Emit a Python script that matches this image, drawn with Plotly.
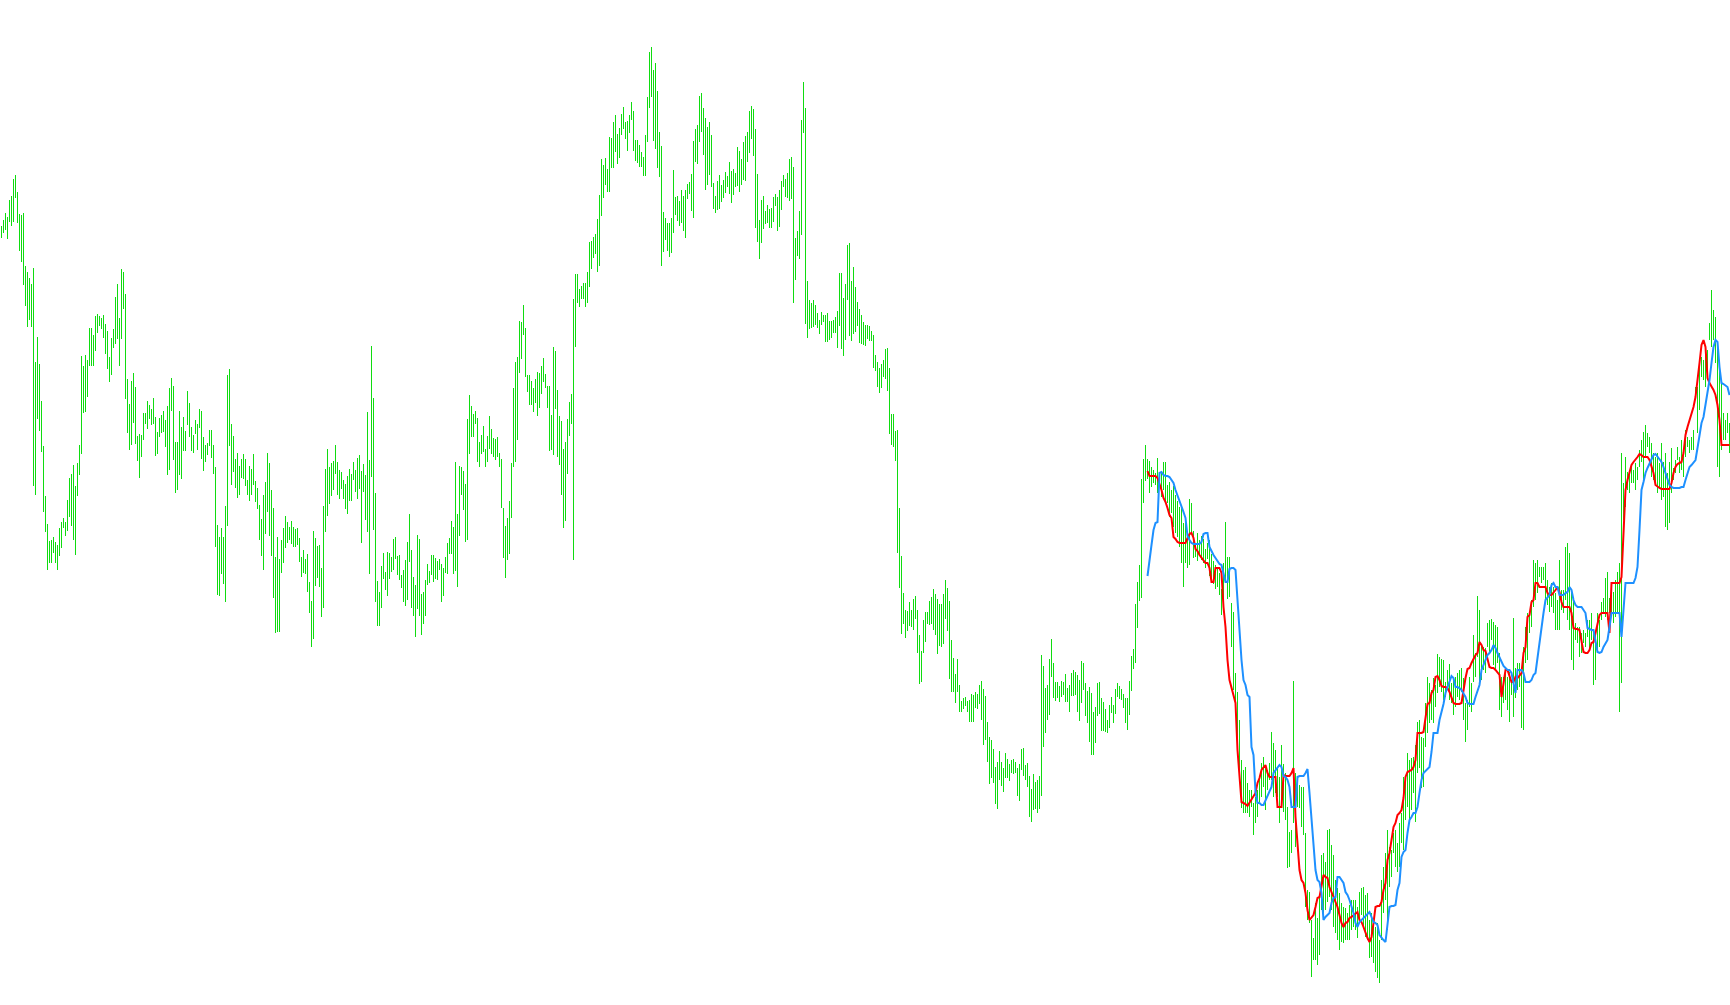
import plotly.graph_objects as go

# Vertical price scale is expressed in chart units measured downward (axis reversed).
# Each bar: TOP = high end, BOTTOM = low end.
BAR_TOP = [
    226,220,213,217,200,196,179,175,192,214, 215,213,266,272,278,284,268,362,337,364,
    401,446,496,524,541,540,537,542,545,528, 522,518,522,500,478,474,465,486,463,445,
    356,366,355,360,328,328,335,316,314,316, 318,315,324,331,357,338,329,297,284,318,
    269,272,294,379,404,381,373,387,436,434, 435,413,413,401,405,409,398,417,432,418,
    415,411,420,406,388,378,386,442,442,411, 427,417,431,391,403,427,435,420,424,409,
    411,437,445,443,430,430,445,467,525,537, 528,537,506,375,369,424,436,459,453,466,
    459,454,459,480,466,469,454,481,488,505, 519,495,482,453,463,490,508,557,537,559,
    540,528,516,522,527,521,527,529,528,538, 557,550,559,554,582,601,531,538,546,545,
    568,506,469,449,467,463,461,445,462,470, 472,480,484,476,469,474,462,470,458,455,
    471,464,475,412,460,346,398,493,581,592, 566,553,572,552,553,557,539,537,556,555,
    575,570,560,542,514,550,577,585,
    535,539,594,592,580,564,571,555,555,558, 561,559,564,568,557,543,538,521,527,462,
    514,466,467,471,484,419,395,406,414,411, 418,442,435,426,449,436,416,429,438,439,
    437,453,459,508,526,518,501,463,388,362, 357,321,322,305,328,375,375,381,388,379,
    372,373,366,358,374,386,386,415,347,351, 390,416,421,449,442,419,402,394,299,274,
    274,289,286,283,283,272,242,241,237,234, 219,195,159,165,158,169,137,138,122,115,
    134,128,114,107,122,121,115,102,111,140,
    140,145,152,157,135,97,52,47,70,63, 91,132,146,212,218,223,223,218,170,197,
    196,201,190,196,190,184,182,174,141,129, 125,96,93,108,118,127,122,135,183,196,
    181,175,185,180,172,176,162,171,169,173, 147,151,159,142,136,132,111,106,109,129,
    174,220,200,196,211,205,209,208,197,194, 197,190,181,175,179,173,159,157,167,238,
    231,211,120,82,108,281,300,303,300,305, 313,320,312,315,315,313,321,321,320,317,
    311,273,273,298,284,245,243,281,267,287,
    302,309,315,322,325,325,326,331,335,355, 362,368,364,360,349,348,368,414,414,431,
    430,508,556,593,610,611,602,610,599,596, 610,635,651,620,612,612,601,597,589,594,
    599,604,604,594,580,588,601,640,658,674, 659,685,701,698,697,701,700,694,695,692,
    694,685,681,689,696,722,737,740,749,767, 762,751,762,768,753,759,764,760,759,762,
    768,764,749,748,765,763,776,789,774,782, 780,776,655,666,688,685,659,639,663,682,
    682,686,681,682,674,688,685,673,670,672,
    675,680,661,663,683,691,687,693,712,707, 683,682,698,702,709,720,705,697,705,689,
    683,686,689,694,698,698,681,
    656,649,604,582,565,479,459,445,459,461, 467,470,473,458,473,472,462,462,485,482,
    490,486,495,501,507,508,523,516,532,499, 503,531,544,533,540,536,539,549,543,540,
    554,561,565,569,573,589,563,522,557,557, 603,612,673,692,720,760,770,767,783,790,
    790,803,797,790,777,763,757,767,770,763, 732,743,750,767,777,
    745,764,773,807,832,830,681,773,780,785, 787,787,833,890,892,920,938,903,918,897,
    855,853,862,830,829,845,855,880,888,893, 903,907,908,913,905,900,900,900,907,892,
    888,887,895,893,920,913,923,927,923,940, 880,867,853,830,847,850,833,830,843,823,
    813,777,776,753,760,758,757,745,722,720, 737,738,703,677,683,690,678,685,654,657,
    659,660,682,670,664,683,678,677,673,670, 668,678,703,700,677,683,635,653,596,610,
    645,647,648,623,620,619,622,625,627,653, 677,677,667,677,672,
    680,618,668,663,663,673,647,627,613,613, 600,560,563,560,567,567,567,563,580,587,
    583,587,593,600,560,590,590,547,543,553, 590,597,623,627,627,633,630,633,620,620,
    613,630,633,613,620,602,598,578,572,598, 593,592,580,572,563,453,483,457,472,473,
    467,470,463,467,450,440,432,425,433,437, 443,453,457,453,463,443,462,453,473,462,
    448,468,460,447,457,440,450,430,437,440, 437,430,387,387,363,357,360,347,350,323,
    290,310,317,347,367,380,413,420,413,423,
]

BAR_BOTTOM = [
    238,233,230,239,222,226,222,198,223,251, 262,285,306,327,320,327,486,495,419,431,
    452,512,532,570,563,563,553,563,570,556, 548,528,536,531,517,526,540,555,496,475,
    454,413,412,397,366,366,366,351,333,326, 329,338,354,369,382,375,348,344,339,366,
    339,309,399,433,450,445,423,444,461,478, 457,440,424,429,419,425,424,456,454,437,
    433,432,447,475,470,411,460,493,490,475, 479,451,451,425,437,451,453,434,450,428,
    459,471,462,455,446,458,474,547,595,596, 574,584,602,526,446,485,472,488,498,495,
    478,479,486,495,501,495,485,502,509,540, 556,570,534,512,536,556,598,633,632,632,
    573,563,548,543,540,544,547,547,545,562, 577,573,574,592,613,647,639,586,578,587,
    617,608,532,516,504,496,490,474,495,499, 489,499,509,514,501,501,480,492,499,489,
    543,492,520,532,574,477,530,602,626,626, 608,579,590,596,579,572,570,559,575,580,
    588,602,606,600,562,608,616,637,
    609,616,635,624,616,585,583,575,582,579, 580,570,602,596,573,574,554,554,574,571,
    587,536,495,510,542,540,454,437,437,424, 462,467,454,452,467,462,449,454,457,460,
    457,467,508,558,578,560,554,518,467,462, 440,373,359,335,377,392,405,405,412,403,
    416,408,394,382,388,408,451,450,455,409, 457,465,495,528,521,474,436,424,560,347,
    303,307,299,299,307,303,287,269,258,254, 272,266,216,198,185,192,192,168,168,152,
    164,158,135,129,139,151,133,120,151,161,
    163,167,167,176,176,142,108,97,141,149, 168,177,266,252,240,251,257,253,233,215,
    221,226,223,231,238,199,194,211,218,162, 164,142,132,155,190,185,175,187,209,213,
    210,209,202,198,193,187,194,203,195,187, 186,192,185,180,181,162,153,139,156,228,
    242,259,243,229,224,223,228,228,222,206, 231,227,210,187,197,198,201,199,303,280,
    256,259,235,133,324,338,329,328,327,325, 328,334,325,322,342,342,340,338,333,333,
    348,326,349,356,340,300,336,341,334,332,
    326,343,344,345,346,339,341,341,368,371, 387,393,388,377,379,391,434,445,447,461,
    553,588,634,624,638,631,626,627,630,619, 653,684,682,653,642,624,625,624,630,635,
    654,646,647,644,619,631,679,692,692,703, 692,712,712,709,706,712,722,722,722,708,
    709,704,720,745,740,762,784,778,783,804, 809,780,786,792,778,778,781,773,774,773,
    796,801,770,776,780,787,817,822,810,809, 813,809,796,747,733,720,715,677,698,701,
    698,702,697,695,702,702,712,696,696,695,
    712,721,703,690,716,723,742,755,755,743, 716,714,731,731,732,733,728,713,723,714,
    697,699,700,708,723,730,715,
    691,669,663,628,601,598,503,481,479,493, 487,483,485,493,484,497,490,503,503,517,
    513,527,533,537,547,563,587,563,568,565, 534,558,557,561,556,560,563,568,559,576,
    583,584,589,587,595,615,601,582,599,597, 647,690,710,740,770,808,813,813,813,817,
    807,835,823,817,803,797,787,810,790,780, 780,797,793,797,823,
    807,812,820,868,867,853,823,847,807,808, 827,835,907,920,923,977,960,960,965,955,
    910,913,910,902,897,910,927,933,940,950, 942,943,940,940,940,930,927,930,938,920,
    915,927,937,940,958,957,963,972,978,983, 940,913,900,930,887,877,853,867,872,867,
    843,850,820,807,820,810,793,822,773,768, 788,787,747,733,723,720,723,707,693,687,
    692,700,697,690,700,703,715,707,697,700, 692,720,742,730,707,712,682,677,657,683,
    680,670,673,647,652,640,665,670,663,710, 717,703,700,710,722,
    695,717,698,690,687,728,730,663,660,633, 627,607,600,593,577,583,580,600,605,612,
    607,613,630,630,630,610,613,600,620,630, 660,670,640,643,657,653,643,647,637,650,
    640,685,680,653,647,620,613,617,620,613, 613,623,617,613,712,683,520,507,490,493,
    483,483,490,480,467,462,480,457,447,453, 477,480,483,493,487,500,497,527,530,523,
    493,480,473,460,473,470,477,457,447,453, 450,450,397,433,410,377,380,387,380,340,
    347,340,363,467,477,450,440,440,433,453,
]

LINE_START = 573  # bar index where both indicator lines begin

RED_LINE = [
    471,476,476,476,476,478,483,490,498,502, 508,515,518,537,539,542,543,543,543,543,
    538,534,533,538,549,551,555,558,560,563, 563,568,582,582,568,568,568,573,607,627,
    660,680,688,695,703,750,777,802,803,804, 806,803,799,797,793,783,778,770,767,765,
    773,777,777,777,777,807,807,807,775,776, 776,776,773,768,817,843,870,880,883,893,
    910,920,917,915,907,898,897,887,875,877, 878,887,892,897,900,907,915,923,927,923,
    922,918,917,915,913,912,920,922,927,933, 938,942,937,923,907,906,906,902,890,883,
    860,853,838,827,823,815,813,810,798,777, 772,771,770,767,760,733,733,733,732,717,
    704,703,693,690,677,676,680,686,687,687, 688,692,697,703,704,704,704,703,688,678,
    669,668,663,658,655,653,642,645,650,651, 660,667,668,668,670,672,675,697,685,670,
    670,675,682,682,677,678,675,673,653,647, 617,615,602,600,583,583,587,587,587,587,
    593,595,595,593,590,587,592,602,607,607, 607,607,613,628,629,629,630,643,652,653,
    653,650,643,642,633,627,615,613,613,613, 613,633,583,583,583,583,583,577,530,490,
    480,472,465,462,460,457,454,455,457,457, 457,460,467,473,485,487,488,489,489,489,
    489,489,483,473,467,464,463,462,453,435, 427,420,413,407,397,382,363,345,340,347,
    378,383,386,390,395,405,420,445,445,445, 445,445,
]

BLUE_LINE = [
    576,557,545,530,523,522,473,472,475,476, 476,477,480,483,490,495,502,505,512,518,
    536,540,543,544,544,544,544,542,534,533, 533,547,552,555,558,561,564,565,573,582,
    582,569,568,568,570,603,627,660,680,685, 695,697,747,755,792,803,803,805,805,800,
    797,792,787,773,770,768,765,767,776,777, 780,787,807,807,807,777,776,776,776,773,
    769,793,820,843,870,880,882,893,920,917, 915,913,903,898,897,877,877,880,883,892,
    895,900,907,913,923,927,922,920,917,915, 913,912,917,922,923,925,935,938,940,942,
    927,907,906,906,905,890,883,857,852,850, 833,820,817,813,813,807,793,780,773,771,
    770,767,752,733,733,733,720,713,704,693, 687,680,676,678,687,687,688,690,693,697,
    703,704,704,704,697,690,685,670,665,660, 655,653,650,645,648,653,657,662,666,668,
    670,670,673,683,693,670,670,670,673,682, 682,682,680,675,673,657,647,630,613,600,
    597,595,585,583,587,587,595,595,595,593, 592,587,590,600,605,607,607,607,610,613,
    628,629,630,630,643,652,653,652,647,643, 640,627,613,613,613,613,613,637,613,583,
    583,583,583,583,578,567,530,490,482,473, 468,463,460,455,454,457,460,462,467,473,
    480,485,487,488,488,488,488,487,487,480, 472,467,465,463,460,448,435,423,417,405,
    393,380,363,347,340,342,367,383,384,386, 387,395,
]

n = min(len(BAR_TOP), len(BAR_BOTTOM))
bx, by = [], []
for i in range(n):
    bx += [i, i, None]
    by += [BAR_TOP[i], BAR_BOTTOM[i], None]

red_x = list(range(LINE_START, LINE_START + len(RED_LINE)))
blue_x = list(range(LINE_START, LINE_START + len(BLUE_LINE)))

fig = go.Figure()
fig.add_trace(go.Scatter(x=bx, y=by, mode="lines",
                         line=dict(color="#10dc10", width=1),
                         hoverinfo="skip", showlegend=False))
fig.add_trace(go.Scatter(x=red_x, y=RED_LINE, mode="lines",
                         line=dict(color="#ff0000", width=2),
                         hoverinfo="skip", showlegend=False))
fig.add_trace(go.Scatter(x=blue_x, y=BLUE_LINE, mode="lines",
                         line=dict(color="#1e90ff", width=2),
                         hoverinfo="skip", showlegend=False))

fig.update_layout(
    width=1730, height=1005,
    margin=dict(l=0, r=0, t=0, b=0),
    paper_bgcolor="white", plot_bgcolor="white",
    showlegend=False,
    xaxis=dict(range=[-0.75, 864.25], visible=False, fixedrange=True),
    yaxis=dict(range=[1005, 0], visible=False, fixedrange=True),
)

fig.write_html(
    "out.html",
    config={"displayModeBar": False, "staticPlot": True},
    post_script=(
        "document.body.style.margin='0';"
        "document.body.style.overflow='hidden';"
        "var t=document.querySelectorAll('.scatterlayer .trace');"
        "if(t.length){t[0].querySelectorAll('path.js-line')"
        ".forEach(function(p){p.style.shapeRendering='crispEdges';});}"
    ),
)
